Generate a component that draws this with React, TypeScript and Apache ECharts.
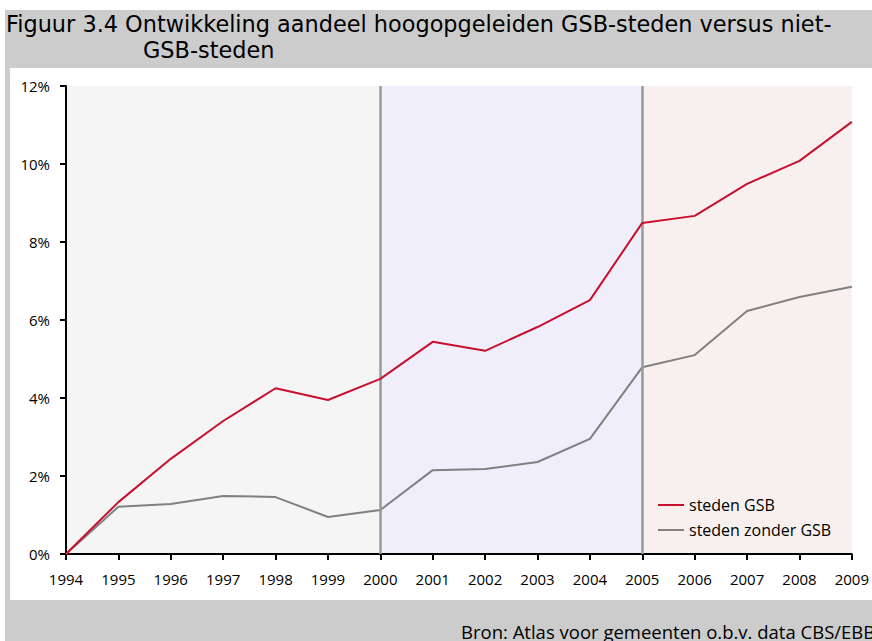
import React, { useEffect, useRef } from "react";
import * as echarts from "echarts";

const years = ["1994","1995","1996","1997","1998","1999","2000","2001","2002","2003","2004","2005","2006","2007","2008","2009"];
const gsb = [0, 1.33, 2.44, 3.41, 4.25, 3.95, 4.49, 5.44, 5.21, 5.82, 6.51, 8.49, 8.67, 9.49, 10.08, 11.08];
const zonderGsb = [0, 1.21, 1.28, 1.49, 1.46, 0.95, 1.13, 2.15, 2.18, 2.36, 2.95, 4.79, 5.10, 6.23, 6.59, 6.85];
const seriesNames = ["steden GSB", "steden zonder GSB"];
const periods = [["1994", "2000"], ["2000", "2005"], ["2005", "2009"]];
const periodColors = ["#f5f5f5", "#efeefa", "#f8f0ee"];
const dividers = ["2000", "2005"];
const titleLine1 = "Figuur 3.4 Ontwikkeling aandeel hoogopgeleiden GSB-steden versus niet-";
const titleLine2 = "GSB-steden";
const sourceText = "Bron: Atlas voor gemeenten o.b.v. data CBS/EBB";

const FONT = "'Open Sans', 'Noto Sans', sans-serif";
const TFONT = "'DejaVu Sans', sans-serif";

export default function App() {
  const ref = useRef<HTMLDivElement>(null);
  useEffect(() => {
    if (!ref.current) return;
    const chart = echarts.init(ref.current, undefined, { renderer: "svg" });
    chart.setOption({
      animation: false,
      backgroundColor: "#ffffff",
      textStyle: { fontFamily: FONT },
      graphic: [
        { type: "rect", z: -10, silent: true, shape: { x: 5, y: 10, width: 867, height: 631 }, style: { fill: "#cccccc" } },
        { type: "rect", z: -9, silent: true, shape: { x: 10, y: 68, width: 862, height: 532 }, style: { fill: "#ffffff" } },
        { type: "text", x: 6, y: 24, style: { text: titleLine1, fontFamily: TFONT, fontSize: 22.4, fill: "#000", textVerticalAlign: "middle" } },
        { type: "text", x: 143, y: 50, style: { text: titleLine2, fontFamily: TFONT, fontSize: 22.4, fill: "#000", textVerticalAlign: "middle" } },
        { type: "text", x: 461, y: 631, style: { text: sourceText, fontFamily: FONT, fontSize: 18.5, fill: "#000", textVerticalAlign: "middle" } },
      ],
      grid: { left: 66, right: 17, top: 86, bottom: 87, containLabel: false },
      legend: {
        orient: "vertical",
        left: 658,
        top: 497,
        padding: 0,
        icon: "rect",
        itemWidth: 26,
        itemHeight: 2,
        itemGap: 9,
        data: seriesNames,
        textStyle: { fontFamily: FONT, fontSize: 16, color: "#000" },
      },
      xAxis: {
        type: "category",
        data: years,
        boundaryGap: false,
        axisLine: { lineStyle: { color: "#000", width: 2 } },
        axisTick: { show: true, length: 6, lineStyle: { color: "#000", width: 2 }, alignWithLabel: true },
        axisLabel: { fontFamily: FONT, fontSize: 15, color: "#000", margin: 17 },
        splitLine: { show: false },
      },
      yAxis: {
        type: "value",
        min: 0,
        max: 12,
        interval: 2,
        axisLine: { show: true, lineStyle: { color: "#000", width: 2 } },
        axisTick: { show: true, length: 6, lineStyle: { color: "#000", width: 2 } },
        axisLabel: { fontFamily: FONT, fontSize: 15, color: "#000", margin: 16, formatter: (v: number) => v + "%" },
        splitLine: { show: false },
      },
      series: [
        {
          name: seriesNames[0],
          type: "line",
          data: gsb,
          symbol: "none",
          z: 5,
          lineStyle: { color: "#c8102e", width: 2 },
          itemStyle: { color: "#c8102e" },
          markArea: {
            silent: true,
            z: -1,
            data: periods.map((p, i) => [
              { xAxis: p[0], itemStyle: { color: periodColors[i] } },
              { xAxis: p[1] },
            ]),
          },
        },
        {
          name: seriesNames[1],
          type: "line",
          data: zonderGsb,
          symbol: "none",
          z: 4,
          lineStyle: { color: "#808080", width: 2 },
          itemStyle: { color: "#808080" },
          markLine: {
            silent: true,
            symbol: "none",
            label: { show: false },
            lineStyle: { color: "#9a9a9a", width: 2.5, type: "solid" },
            data: dividers.map((d) => ({ xAxis: d })),
          },
        },
      ],
    });
    return () => chart.dispose();
  }, []);
  return <div ref={ref} style={{ position: "fixed", left: 0, top: 0, width: 872, height: 641 }} />;
}
